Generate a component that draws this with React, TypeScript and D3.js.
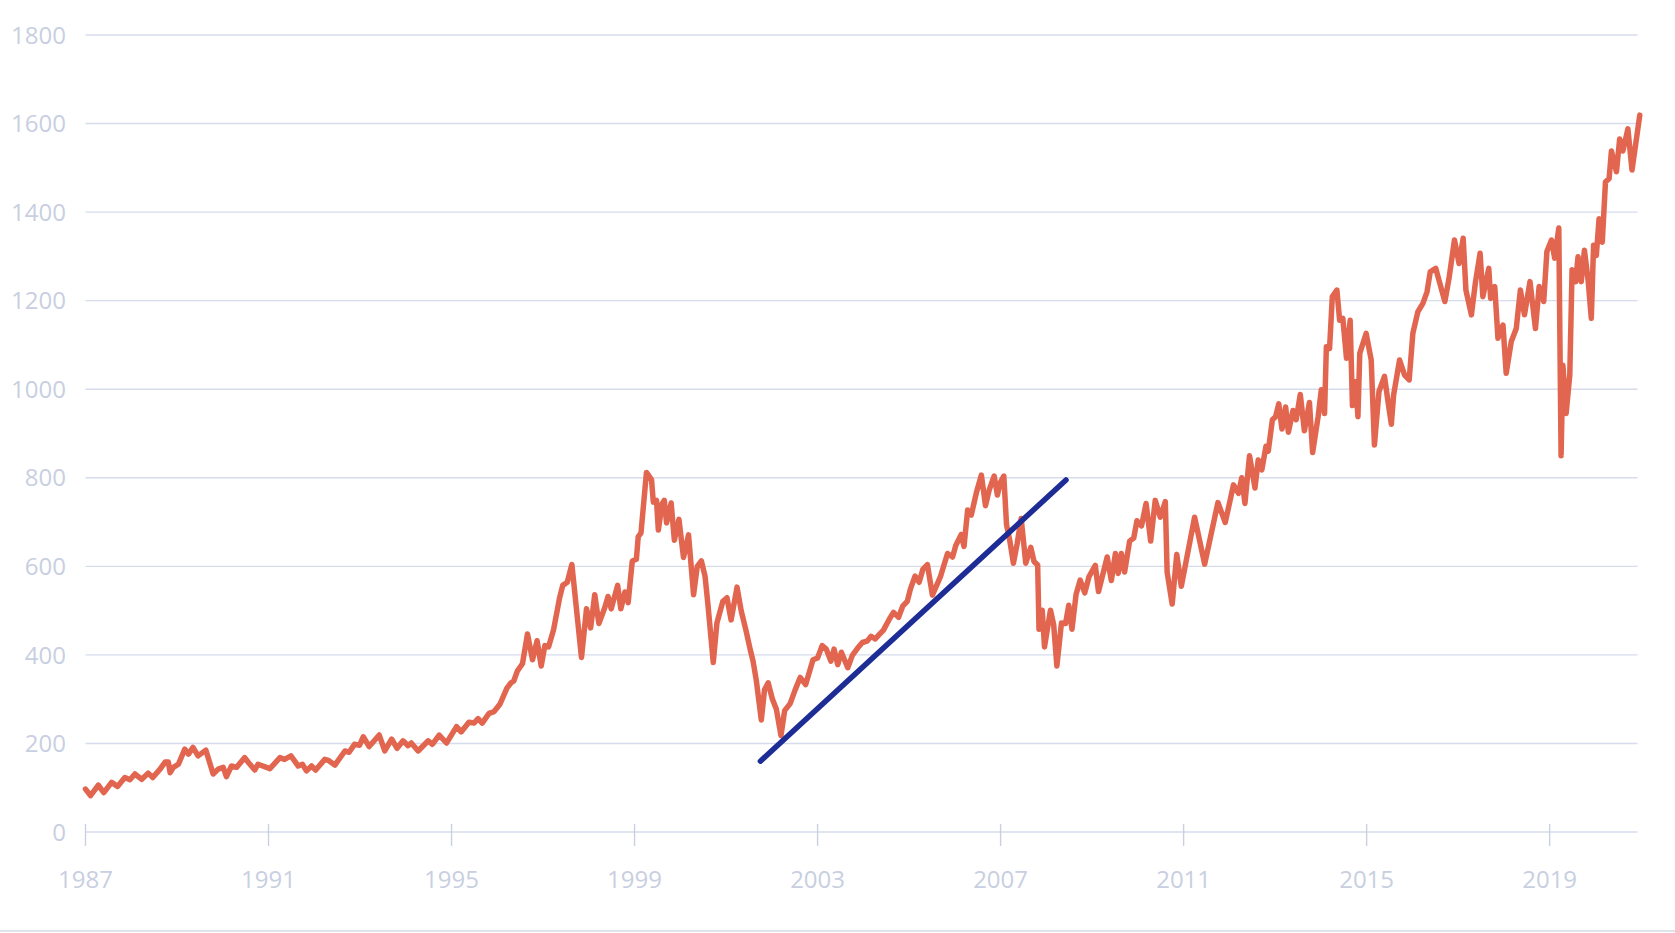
import React from "react";
import * as d3 from "d3";

// ---- DATA ----
const yTicks = [0, 200, 400, 600, 800, 1000, 1200, 1400, 1600, 1800];
const xTicks = [1987, 1991, 1995, 1999, 2003, 2007, 2011, 2015, 2019];

// [year, value]
const series1987_1995: [number, number][] = [
  [1987.0, 97], [1987.11, 82], [1987.28, 106], [1987.4, 89], [1987.57, 112], [1987.7, 103], [1987.86, 123], [1987.97, 118],
  [1988.08, 131], [1988.23, 119], [1988.37, 133], [1988.47, 123], [1988.63, 142], [1988.74, 158], [1988.81, 158], [1988.85, 134],
  [1988.92, 146], [1989.03, 153], [1989.17, 187], [1989.25, 176], [1989.35, 191], [1989.46, 172], [1989.63, 185], [1989.79, 131],
  [1989.9, 142], [1990.01, 146], [1990.08, 125], [1990.19, 149], [1990.3, 146], [1990.48, 168], [1990.56, 157], [1990.7, 140],
  [1990.77, 153], [1991.03, 143], [1991.25, 168], [1991.35, 164], [1991.49, 172], [1991.65, 149], [1991.74, 153], [1991.83, 138],
  [1991.94, 149], [1992.03, 140], [1992.23, 164], [1992.32, 161], [1992.45, 151], [1992.67, 183], [1992.76, 180], [1992.88, 198],
  [1992.99, 196], [1993.07, 215], [1993.2, 193], [1993.42, 219], [1993.54, 183], [1993.69, 210], [1993.81, 189], [1993.94, 206],
  [1994.05, 195], [1994.12, 201], [1994.27, 183], [1994.49, 206], [1994.58, 198], [1994.73, 219], [1994.89, 201],
];

const series1995_2000: [number, number][] = [
  [1995.11, 238], [1995.21, 226], [1995.38, 248], [1995.49, 246], [1995.58, 256], [1995.67, 246], [1995.82, 268], [1995.93, 272],
  [1996.06, 289], [1996.21, 325], [1996.3, 337], [1996.36, 341], [1996.44, 364], [1996.55, 380], [1996.66, 447], [1996.77, 389],
  [1996.87, 432], [1996.96, 375], [1997.04, 421], [1997.12, 418], [1997.23, 457], [1997.36, 528], [1997.43, 557], [1997.53, 564],
  [1997.63, 604], [1997.84, 394], [1997.95, 504], [1998.04, 461], [1998.13, 536], [1998.22, 471], [1998.35, 507], [1998.42, 532],
  [1998.49, 504], [1998.63, 557], [1998.7, 504], [1998.79, 542], [1998.86, 518], [1998.95, 612], [1999.04, 616], [1999.08, 667],
  [1999.14, 675], [1999.26, 812], [1999.37, 796], [1999.41, 745], [1999.48, 749], [1999.52, 682], [1999.6, 741], [1999.65, 749],
  [1999.7, 698], [1999.8, 743], [1999.87, 659], [1999.97, 706], [2000.07, 620], [2000.18, 671], [2000.29, 536],
];

const series2000_2007: [number, number][] = [
  [2000.37, 600], [2000.46, 612], [2000.54, 578], [2000.6, 518], [2000.72, 383], [2000.8, 472], [2000.93, 521], [2001.02, 529],
  [2001.11, 479], [2001.24, 553], [2001.33, 500], [2001.44, 453], [2001.53, 411], [2001.59, 386], [2001.66, 343], [2001.77, 253],
  [2001.84, 321], [2001.92, 337], [2002.01, 301], [2002.1, 277], [2002.2, 218], [2002.28, 274], [2002.4, 290], [2002.51, 321],
  [2002.62, 349], [2002.74, 333], [2002.9, 389], [2003.0, 393], [2003.1, 421], [2003.19, 413], [2003.29, 386], [2003.36, 413],
  [2003.44, 378], [2003.52, 406], [2003.66, 371], [2003.76, 399], [2003.88, 416], [2003.98, 428], [2004.08, 431], [2004.17, 442],
  [2004.26, 436], [2004.33, 444], [2004.44, 456], [2004.57, 481], [2004.66, 496], [2004.77, 485], [2004.86, 510], [2004.96, 521],
  [2005.03, 549], [2005.13, 578], [2005.22, 564], [2005.3, 593], [2005.4, 604], [2005.51, 535], [2005.69, 578], [2005.84, 629],
  [2005.95, 621], [2006.02, 647], [2006.14, 672], [2006.2, 645], [2006.28, 727], [2006.36, 716], [2006.47, 766], [2006.58, 806],
  [2006.67, 737], [2006.75, 772], [2006.86, 804], [2006.93, 761], [2006.99, 788], [2007.07, 804], [2007.13, 694], [2007.2, 659],
  [2007.28, 607], [2007.36, 650], [2007.45, 708], [2007.55, 607], [2007.66, 643], [2007.73, 611], [2007.81, 603],
];

const series2007_2013: [number, number][] = [
  [2007.84, 458], [2007.91, 501], [2007.96, 418], [2008.09, 501], [2008.16, 468], [2008.23, 375], [2008.33, 472], [2008.42, 471],
  [2008.49, 512], [2008.56, 458], [2008.65, 537], [2008.74, 569], [2008.84, 540], [2008.93, 576], [2009.07, 602], [2009.14, 543],
  [2009.33, 621], [2009.42, 568], [2009.51, 629], [2009.57, 584], [2009.64, 629], [2009.71, 587], [2009.82, 657], [2009.91, 664],
  [2009.98, 703], [2010.08, 691], [2010.18, 742], [2010.28, 657], [2010.38, 749], [2010.49, 711], [2010.6, 746], [2010.64, 587],
  [2010.75, 515], [2010.85, 627], [2010.95, 555], [2011.24, 711], [2011.46, 605], [2011.75, 744], [2011.91, 699], [2012.09, 784],
  [2012.2, 765], [2012.27, 800], [2012.34, 742], [2012.44, 850], [2012.56, 777], [2012.63, 840], [2012.71, 818], [2012.8, 871],
  [2012.85, 860], [2012.94, 931], [2013.01, 938], [2013.08, 967], [2013.15, 910], [2013.23, 960], [2013.29, 903],
];

const series2013_2019: [number, number][] = [
  [2013.39, 952], [2013.46, 931], [2013.55, 988], [2013.64, 906], [2013.75, 970], [2013.82, 857], [2013.94, 938], [2014.01, 999],
  [2014.08, 945], [2014.12, 1096], [2014.19, 1092], [2014.25, 1209], [2014.35, 1224], [2014.41, 1156], [2014.48, 1160],
  [2014.56, 1070], [2014.64, 1156], [2014.69, 963], [2014.76, 1017], [2014.81, 938], [2014.85, 1081], [2014.99, 1126],
  [2015.1, 1066], [2015.17, 874], [2015.27, 995], [2015.39, 1029], [2015.47, 970], [2015.54, 921], [2015.59, 987], [2015.72, 1066],
  [2015.83, 1032], [2015.93, 1021], [2016.01, 1126], [2016.12, 1175], [2016.23, 1194], [2016.32, 1220], [2016.39, 1265],
  [2016.51, 1273], [2016.6, 1239], [2016.71, 1198], [2016.8, 1250], [2016.92, 1337], [2017.02, 1284], [2017.11, 1341],
  [2017.17, 1224], [2017.29, 1168], [2017.38, 1243], [2017.48, 1307], [2017.54, 1209], [2017.67, 1273], [2017.71, 1205],
  [2017.8, 1232], [2017.87, 1115], [2017.98, 1145], [2018.05, 1036], [2018.16, 1107], [2018.27, 1137], [2018.36, 1224],
  [2018.45, 1168], [2018.57, 1243], [2018.69, 1137], [2018.77, 1232], [2018.87, 1198], [2018.94, 1311], [2019.04, 1337],
  [2019.11, 1296], [2019.2, 1364],
];

const series2019_2021: [number, number][] = [
  [2019.25, 850], [2019.29, 1054], [2019.36, 945], [2019.44, 1032], [2019.49, 1270], [2019.57, 1243], [2019.62, 1299],
  [2019.69, 1243], [2019.76, 1314], [2019.84, 1247], [2019.91, 1160], [2019.96, 1325], [2020.02, 1302], [2020.08, 1385],
  [2020.15, 1332], [2020.22, 1468], [2020.3, 1476], [2020.35, 1538], [2020.46, 1491], [2020.53, 1565], [2020.6, 1538],
  [2020.71, 1588], [2020.8, 1495], [2020.97, 1619],
];

const trendLine: [number, number][] = [
  [2001.75, 160],
  [2008.43, 795],
];

const allSeries = [
  ...series1987_1995,
  ...series1995_2000,
  ...series2000_2007,
  ...series2007_2013,
  ...series2013_2019,
  ...series2019_2021,
];

// ---- LAYOUT ----
const W = 1675;
const H = 933;
const plotLeft = 85.5;
const plotRight = 1637.5;
const yTop = 35;
const yBottom = 832;

const gridColor = "#d6dcec";
const labelColor = "#c8cfe1";
const font = "'Open Sans', 'Noto Sans', sans-serif";

export default function App() {
  const x = d3.scaleLinear().domain([1987, 2020.92]).range([plotLeft, plotRight]);
  const y = d3.scaleLinear().domain([0, 1800]).range([yBottom, yTop]);

  const line = d3
    .line<[number, number]>()
    .x((d) => x(d[0]))
    .y((d) => y(d[1]))
    .curve(d3.curveLinear);

  return (
    <svg
      width={W}
      height={H}
      viewBox={`0 0 ${W} ${H}`}
      style={{ position: "fixed", left: 0, top: 0, background: "#ffffff" }}
    >
      <rect x={0} y={0} width={W} height={H} fill="#ffffff" />
      {yTicks.map((t) => (
        <g key={`y${t}`}>
          <line x1={plotLeft} x2={plotRight} y1={y(t)} y2={y(t)} stroke={gridColor} strokeWidth={1.4} />
          <text
            x={66}
            y={y(t)}
            dy="0.36em"
            textAnchor="end"
            fontFamily={font}
            fontSize={24}
            fill={labelColor}
          >
            {t}
          </text>
        </g>
      ))}
      {xTicks.map((t) => (
        <g key={`x${t}`}>
          <line x1={x(t)} x2={x(t)} y1={yBottom - 8} y2={yBottom + 14} stroke="#c9d0e2" strokeWidth={1.4} />
          <text
            x={x(t)}
            y={879}
            dy="0.36em"
            textAnchor="middle"
            fontFamily={font}
            fontSize={24}
            fill={labelColor}
          >
            {t}
          </text>
        </g>
      ))}
      <path
        d={line(allSeries) || ""}
        fill="none"
        stroke="#e2664f"
        strokeWidth={5.5}
        strokeLinejoin="round"
        strokeLinecap="round"
      />
      <path
        d={line(trendLine) || ""}
        fill="none"
        stroke="#1e2d96"
        strokeWidth={5.5}
        strokeLinecap="round"
      />
      <line x1={0} x2={W} y1={931} y2={931} stroke="#dfe3ea" strokeWidth={2} />
    </svg>
  );
}
